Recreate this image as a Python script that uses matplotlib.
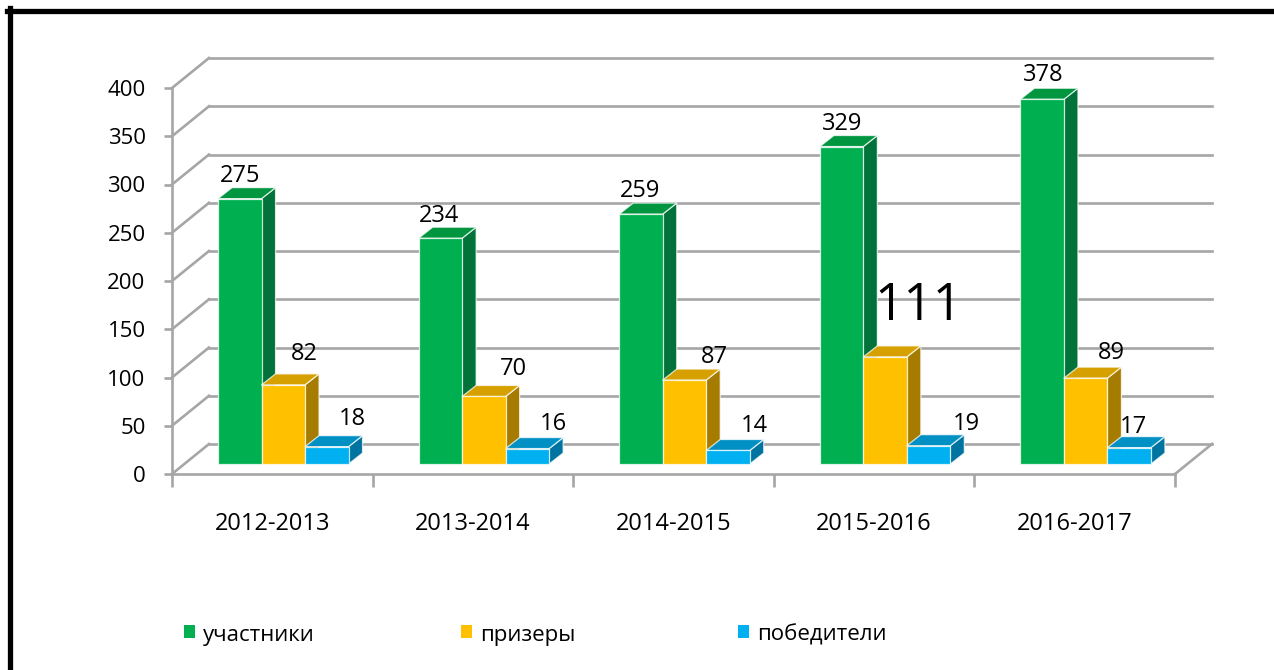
import matplotlib
matplotlib.use("Agg")
import matplotlib.pyplot as plt
from matplotlib.patches import Polygon, Rectangle
from matplotlib.lines import Line2D

# ---------------- data ----------------
categories = ["2012-2013", "2013-2014", "2014-2015", "2015-2016", "2016-2017"]
series_names = ["участники", "призеры", "победители"]
participants = [275, 234, 259, 329, 378]
prize_winners = [82, 70, 87, 111, 89]
winners = [18, 16, 14, 19, 17]
y_ticks = [0, 50, 100, 150, 200, 250, 300, 350, 400]

# ---------------- style ----------------
plt.rcParams['font.family'] = ['Open Sans', 'DejaVu Sans']
W, H, DPI = 1274, 670, 100
front_col = ["#00B050", "#FFC000", "#00B0F0"]
top_col = ["#00953F", "#D6A100", "#0090C4"]
side_col = ["#00723A", "#A67C00", "#0074A0"]
grid_col = "#A6A6A6"

# label offsets in pixels relative to front-top centre of each bar
lab_dx = [[0, -1, -1, 1, 1], [21, 30, 30, 33, 26], [26, 26, 26, 38, 4]]
lab_dy = [[23, 22, 23, 23, 24], [31, 27, 23, 50, 25], [28, 25, 24, 22, 21]]
lab_size = [[17] * 5, [17, 17, 17, 37, 17], [17] * 5]

fig = plt.figure(figsize=(W / DPI, H / DPI), dpi=DPI)
fig.patch.set_facecolor("white")

# axes = front plane of the pseudo-3D chart
x0, x1 = 172, 1175
yb, yt = 474, 88
ax = fig.add_axes([x0 / W, 1 - yb / H, (x1 - x0) / W, (yb - yt) / H])
ax.set_xlim(-0.5, 4.5)
ax.set_ylim(0, 400)
ax.patch.set_alpha(0)

ppc = (x1 - x0) / 5.0          # pixels per category
ppu = (yb - yt) / 400.0        # pixels per unit
def px2x(p): return p / ppc
def px2y(p): return p / ppu

# wall depth
wdx, wdy = px2x(37), px2y(30)
# bar plane offset
bdx, bdy = px2x(11), px2y(10)
# bar depth
ddx, ddy = px2x(14), px2y(11)
bw = px2x(43.5)

gl = 1.9
# back wall gridlines & left wall diagonals
for v in y_ticks:
    ax.add_line(Line2D([-0.5 + wdx, 4.5 + wdx], [v + wdy, v + wdy], color=grid_col, lw=gl, clip_on=False, zorder=1))
    ax.add_line(Line2D([-0.5, -0.5 + wdx], [v, v + wdy], color=grid_col, lw=gl, clip_on=False, zorder=1))
# floor right diagonal
ax.add_line(Line2D([4.5, 4.5 + wdx], [0, wdy], color=grid_col, lw=gl, clip_on=False, zorder=1))

# spines / ticks
for s in ["top", "right"]:
    ax.spines[s].set_visible(False)
for s in ["left", "bottom"]:
    ax.spines[s].set_color(grid_col)
    ax.spines[s].set_linewidth(gl)
    ax.spines[s].set_zorder(1)
ax.set_yticks(y_ticks)
ax.set_yticklabels([str(v) for v in y_ticks])
ax.tick_params(axis="y", length=6, width=gl, color=grid_col, pad=13, labelsize=16, labelcolor="black")
ax.set_xticks([i - 0.5 for i in range(len(categories) + 1)])
ax.set_xticklabels([""] * (len(categories) + 1))
ax.tick_params(axis="x", which="major", length=9, width=gl, color=grid_col)
ax.set_xticks(range(len(categories)), minor=True)
ax.set_xticklabels(categories, minor=True)
ax.tick_params(axis="x", which="minor", length=0, pad=27, labelsize=17, labelcolor="black")

# bars
series = [participants, prize_winners, winners]
z = 3
for k in range(len(categories)):
    for i, vals in enumerate(series):
        v = vals[k]
        xl = k + bdx + (i - 1.5) * bw
        xr = xl + bw
        yb0 = bdy
        yt0 = bdy + v
        side = [(xr, yb0), (xr + ddx, yb0 + ddy), (xr + ddx, yt0 + ddy), (xr, yt0)]
        top = [(xl, yt0), (xr, yt0), (xr + ddx, yt0 + ddy), (xl + ddx, yt0 + ddy)]
        front = [(xl, yb0), (xr, yb0), (xr, yt0), (xl, yt0)]
        for pts, c in ((side, side_col[i]), (top, top_col[i]), (front, front_col[i])):
            ax.add_patch(Polygon(pts, closed=True, facecolor=c, edgecolor=(1, 1, 1, 0.75),
                                 lw=0.9, clip_on=False, zorder=z, joinstyle="round"))
        z += 1

# data labels
for k in range(len(categories)):
    for i, vals in enumerate(series):
        v = vals[k]
        xc = k + bdx + (i - 1) * bw
        ax.annotate(str(v), (xc, bdy + v), xytext=(lab_dx[i][k], lab_dy[i][k]),
                    textcoords="offset pixels", ha="center", va="center",
                    fontsize=lab_size[i][k], color="black", zorder=50, annotation_clip=False)

# legend
leg_x = [184, 461, 738]
for i, name in enumerate(series_names):
    fig.patches.append(Rectangle((leg_x[i] / W, 1 - 638 / H), 11 / W, 13 / H,
                                 transform=fig.transFigure, facecolor=front_col[i], edgecolor="none"))
    fig.text((leg_x[i] + 19) / W, 1 - 635 / H, name, fontsize=16, va="center", ha="left", color="black")

# outer frame (left & top)
fig.add_artist(Line2D([9.5 / W, 9.5 / W], [1 - 8 / H, 0], transform=fig.transFigure, color="black", lw=3.8))
fig.add_artist(Line2D([7 / W, 1], [1 - 11 / H, 1 - 11 / H], transform=fig.transFigure, color="black", lw=3.8))

fig.savefig("out.png", dpi=DPI)
